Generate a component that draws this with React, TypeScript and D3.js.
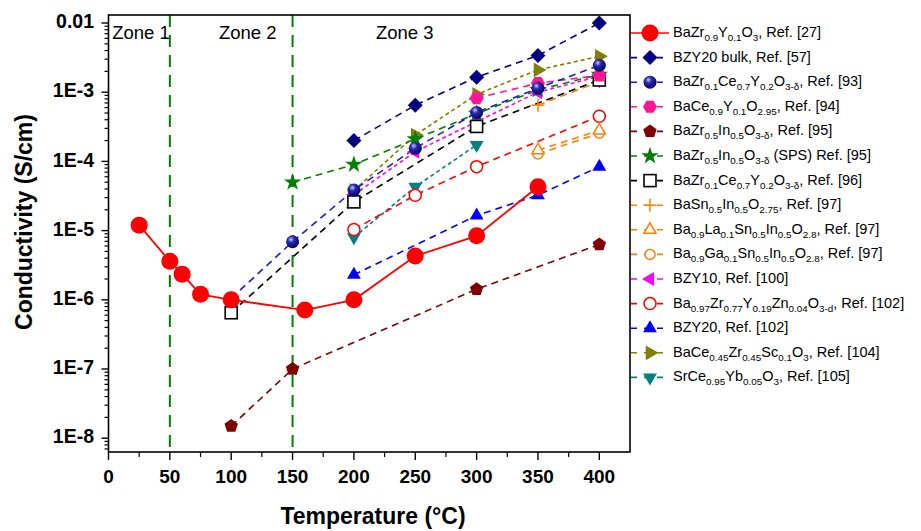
import React from "react";
import * as d3 from "d3";

// conductivity data, [temperature °C, sigma S/cm]
const bzyRef27 = [[25, 1.2e-5], [50, 3.6e-6], [60, 2.35e-6], [75, 1.2e-6], [100, 1.0e-6], [160, 7.1e-7], [200, 1.0e-6], [250, 4.3e-6], [300, 8.4e-6], [350, 4.3e-5]];
const bzy20Bulk = [[200, 2.0e-4], [250, 6.5e-4], [300, 1.65e-3], [350, 3.4e-3], [400, 1.0e-2]];
const bzcyRef93 = [[100, 1.05e-6], [150, 6.9e-6], [200, 3.85e-5], [250, 1.55e-4], [300, 5.1e-4], [350, 1.14e-3], [400, 2.45e-3]];
const bcyRef94 = [[300, 8.2e-4], [350, 1.35e-3], [400, 1.75e-3]];
const bziRef95 = [[100, 1.5e-8], [150, 1.0e-7], [300, 1.42e-6], [400, 6.3e-6]];
const bziSps95 = [[150, 5.0e-5], [200, 9.0e-5], [250, 2.1e-4], [300, 4.9e-4], [350, 1.08e-3], [400, 1.8e-3]];
const bzcyRef96 = [[100, 6.5e-7], [200, 2.6e-5], [300, 3.2e-4], [400, 1.5e-3]];
const bsiRef97 = [[350, 6.5e-4], [400, 1.42e-3]];
const blsiRef97 = [[350, 1.45e-4], [400, 2.8e-4]];
const bgsiRef97 = [[350, 1.28e-4], [400, 2.55e-4]];
const bzy10Ref100 = [[200, 3.3e-5], [250, 1.38e-4], [300, 3.75e-4], [350, 1.0e-3], [400, 1.7e-3]];
const bzyzRef102 = [[200, 1.04e-5], [250, 3.25e-5], [300, 8.4e-5], [400, 4.5e-4]];
const bzy20Ref102 = [[200, 2.3e-6], [300, 1.65e-5], [350, 3.25e-5], [400, 8.4e-5]];
const bczsRef104 = [[200, 3.8e-5], [250, 2.4e-4], [300, 9.3e-4], [350, 2.1e-3], [400, 3.3e-3]];
const scyRef105 = [[200, 8.0e-6], [250, 4.3e-5], [300, 1.73e-4]];

const xTicks = [0, 50, 100, 150, 200, 250, 300, 350, 400];
const yTicks = [1e-8, 1e-7, 1e-6, 1e-5, 1e-4, 1e-3, 1e-2];
const yTickLabels = ["1E-8", "1E-7", "1E-6", "1E-5", "1E-4", "1E-3", "0.01"];
const zoneLines = [50, 150];
const zoneLabels = [
  { text: "Zone 1", t: 3 },
  { text: "Zone 2", t: 90 },
  { text: "Zone 3", t: 218 },
];

const series = [
  { label: "BaZr_{0.9}Y_{0.1}O_{3}, Ref. [27]", data: bzyRef27, color: "#ff0000", marker: "bigcircle", dash: null },
  { label: "BZY20 bulk, Ref. [57]", data: bzy20Bulk, color: "#000080", marker: "diamond", dash: "7,5" },
  { label: "BaZr_{0.1}Ce_{0.7}Y_{0.2}O_{3-δ}, Ref. [93]", data: bzcyRef93, color: "#1c1cc8", marker: "sphere", dash: "7,5" },
  { label: "BaCe_{0.9}Y_{0.1}O_{2.95}, Ref. [94]", data: bcyRef94, color: "#ff1493", marker: "hexagon", dash: "7,5" },
  { label: "BaZr_{0.5}In_{0.5}O_{3-δ}, Ref. [95]", data: bziRef95, color: "#800000", marker: "pentagon", dash: "7,5" },
  { label: "BaZr_{0.5}In_{0.5}O_{3-δ} (SPS) Ref. [95]", data: bziSps95, color: "#008000", marker: "star", dash: "7,5" },
  { label: "BaZr_{0.1}Ce_{0.7}Y_{0.2}O_{3-δ}, Ref. [96]", data: bzcyRef96, color: "#000000", marker: "square", dash: "7,5" },
  { label: "BaSn_{0.5}In_{0.5}O_{2.75}, Ref. [97]", data: bsiRef97, color: "#ff8000", marker: "plus", dash: "7,5" },
  { label: "Ba_{0.9}La_{0.1}Sn_{0.5}In_{0.5}O_{2.8}, Ref. [97]", data: blsiRef97, color: "#ff8000", marker: "opentri", dash: "7,5" },
  { label: "Ba_{0.9}Ga_{0.1}Sn_{0.5}In_{0.5}O_{2.8}, Ref. [97]", data: bgsiRef97, color: "#ff8000", marker: "opencircle", dash: "7,5" },
  { label: "BZY10, Ref. [100]", data: bzy10Ref100, color: "#ff00ff", marker: "lefttri", dash: "4,3" },
  { label: "Ba_{0.97}Zr_{0.77}Y_{0.19}Zn_{0.04}O_{3-d}, Ref. [102]", data: bzyzRef102, color: "#ff0000", marker: "opencircle2", dash: "7,5" },
  { label: "BZY20, Ref. [102]", data: bzy20Ref102, color: "#0000ff", marker: "uptri", dash: "7,5" },
  { label: "BaCe_{0.45}Zr_{0.45}Sc_{0.1}O_{3}, Ref. [104]", data: bczsRef104, color: "#808000", marker: "righttri", dash: "4,3" },
  { label: "SrCe_{0.95}Yb_{0.05}O_{3}, Ref. [105]", data: scyRef105, color: "#008080", marker: "downtri", dash: "4,3" },
];

const W = 921;
const H = 531;
const left = 108.5, right = 630, top = 15, bottom = 452;

const x = d3.scaleLinear().domain([0, 425]).range([left, right]);
const y = d3.scaleLog().domain([6.32e-9, 0.01305]).range([bottom, top]);

const font = "Arial, 'Liberation Sans', sans-serif";

function poly(n: number, r: number, rot: number) {
  const pts: string[] = [];
  for (let i = 0; i < n; i++) {
    const a = rot + (i * 2 * Math.PI) / n;
    pts.push(`${(r * Math.cos(a)).toFixed(2)},${(r * Math.sin(a)).toFixed(2)}`);
  }
  return "M" + pts.join("L") + "Z";
}

function Marker({ type, cx, cy, color }: { type: string; cx: number; cy: number; color: string }) {
  const tr = `translate(${cx},${cy})`;
  switch (type) {
    case "bigcircle":
      return <circle cx={cx} cy={cy} r={8.5} fill={color} />;
    case "diamond":
      return <path transform={tr} d={poly(4, 7.5, 0)} fill={color} />;
    case "sphere":
      return <circle cx={cx} cy={cy} r={6.5} fill="url(#sphereGrad)" />;
    case "hexagon":
      return <path transform={tr} d={poly(6, 7, 0)} fill={color} />;
    case "pentagon":
      return <path transform={tr} d={poly(5, 7, -Math.PI / 2)} fill={color} />;
    case "star":
      return <path transform={tr} d={d3.symbol(d3.symbolStar, 95)()!} fill={color} />;
    case "square":
      return <rect x={cx - 6} y={cy - 6} width={12} height={12} fill="white" stroke={color} strokeWidth={1.6} />;
    case "plus":
      return (
        <g transform={tr} stroke={color} strokeWidth={1.5}>
          <line x1={-6.5} x2={6.5} y1={0} y2={0} />
          <line x1={0} x2={0} y1={-6.5} y2={6.5} />
        </g>
      );
    case "opentri":
      return <path transform={tr} d={poly(3, 7, -Math.PI / 2)} fill="white" stroke={color} strokeWidth={1.5} />;
    case "opencircle":
      return <circle cx={cx} cy={cy} r={5} fill="white" stroke={color} strokeWidth={1.5} />;
    case "opencircle2":
      return <circle cx={cx} cy={cy} r={6} fill="white" stroke={color} strokeWidth={1.5} />;
    case "lefttri":
      return <path transform={tr} d={poly(3, 8, Math.PI)} fill={color} />;
    case "uptri":
      return <path transform={tr} d={poly(3, 8, -Math.PI / 2)} fill={color} />;
    case "righttri":
      return <path transform={tr} d={poly(3, 8.5, 0)} fill={color} />;
    case "downtri":
      return <path transform={tr} d={poly(3, 8, Math.PI / 2)} fill={color} />;
    default:
      return null;
  }
}

// "_{...}" marks subscripts
function RichText({ text, px, py, size }: { text: string; px: number; py: number; size: number }) {
  const parts = text.split(/(_\{[^}]*\})/).filter((s) => s.length);
  let shift = 0;
  return (
    <text x={px} y={py} fontFamily={font} fontSize={size} dominantBaseline="middle" fill="#000">
      {parts.map((p, i) => {
        const isSub = p.startsWith("_{");
        const target = isSub ? 5 : 0;
        const dy = target - shift;
        shift = target;
        return (
          <tspan key={i} dy={dy} fontSize={isSub ? size * 0.68 : size}>
            {isSub ? p.slice(2, -1) : p}
          </tspan>
        );
      })}
    </text>
  );
}

export default function App() {
  const line = d3
    .line<number[]>()
    .x((d) => x(d[0]))
    .y((d) => y(d[1]));

  const minor: number[] = [];
  for (let e = -9; e <= -2; e++) {
    for (let k = 2; k <= 9; k++) {
      const v = k * Math.pow(10, e);
      if (v >= y.domain()[0] && v <= y.domain()[1]) minor.push(v);
    }
  }
  const xMinor = d3.range(25, 425, 50);

  // markers: earlier legend entries end up on top
  const markerOrder = [...series].reverse();

  return (
    <svg width={W} height={H} style={{ position: "absolute", left: 0, top: 0, background: "white" }}>
      <defs>
        <radialGradient id="sphereGrad" cx="0.38" cy="0.32" r="0.7">
          <stop offset="0" stopColor="#c8c8ff" />
          <stop offset="0.35" stopColor="#2a2ab0" />
          <stop offset="1" stopColor="#000060" />
        </radialGradient>
      </defs>

      {/* zone dividers */}
      {zoneLines.map((t) => (
        <line key={t} x1={x(t)} x2={x(t)} y1={top} y2={bottom} stroke="#008000" strokeWidth={2} strokeDasharray="12,8" />
      ))}
      {zoneLabels.map((z) => (
        <text key={z.text} x={x(z.t)} y={34} fontFamily={font} fontSize={18.5} dominantBaseline="middle">
          {z.text}
        </text>
      ))}

      {/* series lines */}
      {markerOrder.map((s) => (
        <path
          key={s.label + "l"}
          d={line(s.data)!}
          fill="none"
          stroke={s.color}
          strokeWidth={s.dash ? 1.6 : 1.8}
          strokeDasharray={s.dash || undefined}
        />
      ))}
      {markerOrder.map((s) => (
        <g key={s.label + "m"}>
          {s.data.map((d, i) => (
            <Marker key={i} type={s.marker} cx={x(d[0])} cy={y(d[1])} color={s.color} />
          ))}
        </g>
      ))}

      {/* frame */}
      <rect x={left} y={top} width={right - left} height={bottom - top} fill="none" stroke="#000" strokeWidth={1.6} />

      {/* y axis */}
      {yTicks.map((v, i) => (
        <g key={v}>
          <line x1={left - 7} x2={left} y1={y(v)} y2={y(v)} stroke="#000" strokeWidth={1.4} />
          <text x={94} y={y(v)} textAnchor="end" dominantBaseline="middle" fontFamily={font} fontWeight="bold" fontSize={19.5}>
            {yTickLabels[i]}
          </text>
        </g>
      ))}
      {minor.map((v) => (
        <line key={v} x1={left - 4} x2={left} y1={y(v)} y2={y(v)} stroke="#000" strokeWidth={1.2} />
      ))}

      {/* x axis */}
      {xTicks.map((t) => (
        <g key={t}>
          <line x1={x(t)} x2={x(t)} y1={bottom} y2={bottom + 8} stroke="#000" strokeWidth={1.4} />
          <text x={x(t)} y={478} textAnchor="middle" dominantBaseline="middle" fontFamily={font} fontWeight="bold" fontSize={19}>
            {t}
          </text>
        </g>
      ))}
      {xMinor.map((t) => (
        <line key={t} x1={x(t)} x2={x(t)} y1={bottom} y2={bottom + 5} stroke="#000" strokeWidth={1.2} />
      ))}

      {/* axis titles */}
      <text x={373} y={518} textAnchor="middle" dominantBaseline="middle" fontFamily={font} fontWeight="bold" fontSize={23}>
        Temperature (°C)
      </text>
      <text
        transform={`translate(26,222) rotate(-90)`}
        textAnchor="middle"
        dominantBaseline="middle"
        fontFamily={font}
        fontWeight="bold"
        fontSize={23}
      >
        Conductivity (S/cm)
      </text>

      {/* legend */}
      {series.map((s, i) => {
        const ly = 33 + i * 24.6;
        return (
          <g key={s.label + "g"}>
            <line
              x1={631}
              x2={669}
              y1={ly}
              y2={ly}
              stroke={s.color}
              strokeWidth={1.6}
              strokeDasharray={s.dash ? "6,7" : undefined}
            />
            <Marker type={s.marker} cx={650} cy={ly} color={s.color} />
            <RichText text={s.label} px={673} py={ly} size={14.5} />
          </g>
        );
      })}
    </svg>
  );
}
